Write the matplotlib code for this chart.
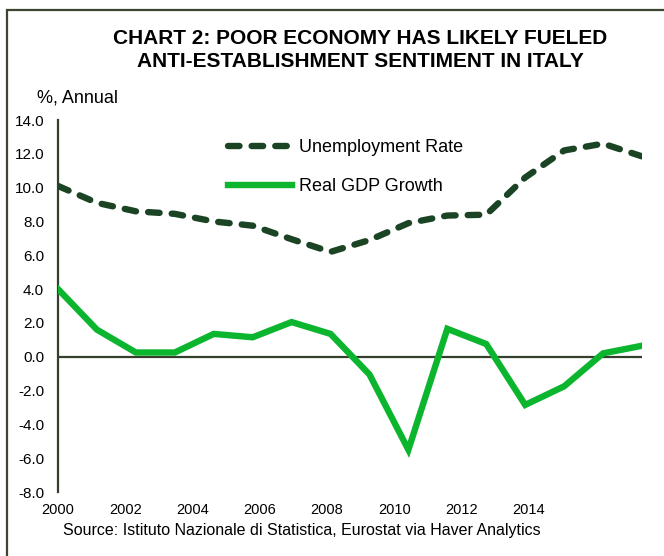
import matplotlib.pyplot as plt
from matplotlib.patches import Rectangle

plt.rcParams['font.family'] = ['Liberation Sans', 'DejaVu Sans']

# Datos anuales (%)
anios = [2000, 2001, 2002, 2003, 2004, 2005, 2006, 2007,
         2008, 2009, 2010, 2011, 2012, 2013, 2014, 2015]
desempleo = [10.1, 9.1, 8.6, 8.45, 8.0, 7.75, 6.95, 6.2,
             6.9, 7.9, 8.35, 8.4, 10.6, 12.2, 12.6, 11.85]
pib_real = [4.0, 1.6, 0.25, 0.25, 1.35, 1.15, 2.05, 1.35,
            -1.05, -5.5, 1.65, 0.75, -2.85, -1.75, 0.2, 0.65]
etiquetas_x = ['2000', '2002', '2004', '2006', '2008', '2010', '2012', '2014']
ticks_y = [14, 12, 10, 8, 6, 4, 2, 0, -2, -4, -6, -8]

color_desempleo = '#1b4424'
color_pib = '#0bb52e'
color_eje = '#35402c'

W, H = 664, 556
fig = plt.figure(figsize=(W / 100, H / 100), dpi=100)

# marco exterior (solo se ve arriba e izquierda)
fig.patches.append(Rectangle((7 / W, -0.5), 2.0, 1.5 - 10 / H, transform=fig.transFigure,
                             fill=False, edgecolor='#3a4630', linewidth=1.6))

ax = fig.add_axes([58 / W, (H - 492) / H, (642 - 58) / W, (492 - 120) / H])
ax.plot(anios, desempleo, color=color_desempleo, linewidth=4.6,
        linestyle=(0, (1.8, 1.9)), dash_capstyle='round', solid_capstyle='round',
        label='Unemployment Rate', zorder=3)
ax.plot(anios, pib_real, color=color_pib, linewidth=4.6, solid_joinstyle='miter',
        label='Real GDP Growth', zorder=3)
ax.axhline(0, color=color_eje, linewidth=1.6, zorder=2)

ax.set_xlim(2000, 2015)
ax.set_ylim(-8, 14)
ax.set_yticks(ticks_y)
ax.set_yticklabels([f'{v:.1f}' for v in ticks_y], fontsize=11)
ax.tick_params(axis='y', length=0, pad=10)
ax.set_xticks([])
for lado in ['top', 'right', 'bottom']:
    ax.spines[lado].set_visible(False)
ax.spines['left'].set_color(color_eje)
ax.spines['left'].set_linewidth(1.6)

# las etiquetas de años van sobre un eje aparte con su propio espaciado
ax_lbl = ax.twiny()
ax_lbl.set_xlim(2000, 2017.36)
ax_lbl.xaxis.set_ticks_position('bottom')
ax_lbl.set_xticks([int(e) for e in etiquetas_x])
ax_lbl.set_xticklabels(etiquetas_x, fontsize=10.5)
ax_lbl.tick_params(axis='x', length=0, pad=8)
for lado in ax_lbl.spines.values():
    lado.set_visible(False)

leg = ax.legend(loc='upper left', bbox_to_anchor=((221 - 58) / (642 - 58), 1 - (132 - 120) / 372),
                frameon=False, fontsize=13, handlelength=3.55, handletextpad=0.35,
                labelspacing=1.2, borderaxespad=0)

fig.text(360 / W, 1 - 50 / H, 'CHART 2: POOR ECONOMY HAS LIKELY FUELED\nANTI-ESTABLISHMENT SENTIMENT IN ITALY',
         ha='center', va='center', fontsize=15, fontweight='bold', linespacing=1.22)
fig.text(37 / W, 1 - 98 / H, '%, Annual', ha='left', va='center', fontsize=13)
fig.text(63 / W, 1 - 530 / H, 'Source: Istituto Nazionale di Statistica, Eurostat via Haver Analytics',
         ha='left', va='center', fontsize=11.5)

fig.savefig('out.png', dpi=100)
